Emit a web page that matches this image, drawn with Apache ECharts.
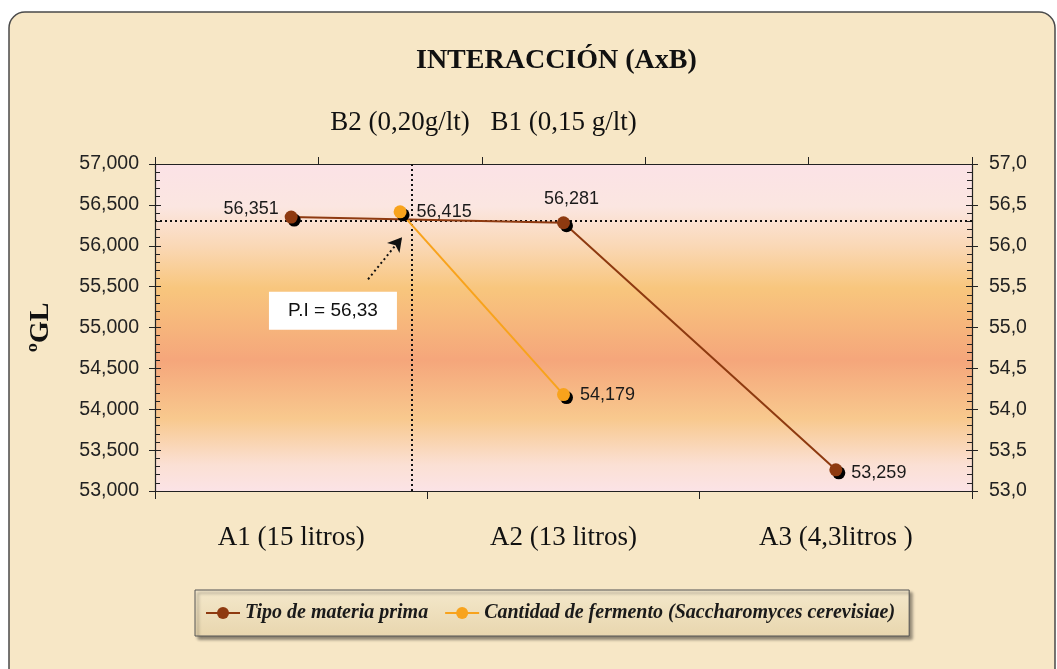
<!DOCTYPE html>
<html>
<head>
<meta charset="utf-8">
<script src="https://cdn.jsdelivr.net/npm/echarts@6/dist/echarts.min.js"></script>
<style>
html,body{margin:0;padding:0;background:#ffffff;}
#c{width:1057px;height:669px;}
</style>
</head>
<body>
<div id="c"></div>
<script>
// ---- data ----
const categoriesA = ['A1 (15 litros)', 'A2 (13 litros)', 'A3 (4,3litros )'];
const categoriesB = ['', 'B2 (0,20g/lt)', 'B1 (0,15 g/lt)', ' ', '  '];
const tipoMateria = [56.351, 56.281, 53.259];
const cantidadFermento = [null, 56.415, 54.179, null, null];
const yMin = 53, yMax = 57, yStep = 0.5;
// intersection crosshair (data units of hidden helper axis 0..5 and y)
const piLabel = 'P.I = 56,33';
const crossX = 1.573, crossY = 56.295;
const arrowFrom = [1.304, 55.59], arrowTo = [1.512, 56.105];
const boxAt = [1.089, 55.206];

const brown = '#8e3a10', orange = '#f8a31c';
const chart = echarts.init(document.getElementById('c'));
const fmtL = v => v.toFixed(3).replace('.', ',');
const fmtR = v => v.toFixed(1).replace('.', ',');
const serif = '"Liberation Serif", "Times New Roman", serif';
const sans = '"Liberation Sans", Arial, sans-serif';

const gridBg = {
  type: 'linear', x: 0, y: 0, x2: 0, y2: 1,
  colorStops: [
    {offset: 0, color: '#fbe2e6'},
    {offset: 0.13, color: '#fbe6e1'},
    {offset: 0.25, color: '#fad8b6'},
    {offset: 0.38, color: '#f8c67d'},
    {offset: 0.6, color: '#f5a67b'},
    {offset: 0.78, color: '#f8c98e'},
    {offset: 0.92, color: '#fbe0d4'},
    {offset: 1, color: '#fbe3e6'}
  ]
};

const yBase = {
  type: 'value', min: yMin, max: yMax, interval: yStep,
  splitLine: {show: false}
};

chart.setOption({
  backgroundColor: '#ffffff',
  animation: false,
  graphic: [{
    type: 'rect', z: -10,
    shape: {x: 9, y: 12, width: 1046, height: 700, r: 16},
    style: {fill: '#f7e7c6', stroke: '#4a4a4a', lineWidth: 1.5}
  }],
  title: {
    text: 'INTERACCIÓN (AxB)', left: 416, top: 47, padding: 0,
    textStyle: {fontFamily: serif, fontSize: 28, fontWeight: 'bold', color: '#111'}
  },
  grid: {
    left: 155, right: 85, top: 164, bottom: 178,
    show: true, backgroundColor: gridBg, borderWidth: 0
  },
  legend: {
    data: ['Tipo de materia prima', 'Cantidad de fermento (Saccharomyces cerevisiae)'],
    left: 195, top: 590,
    padding: [13, 14, 13, 10],
    itemGap: 16, itemWidth: 34, itemHeight: 15,
    backgroundColor: {
      type: 'linear', x: 0, y: 0, x2: 0, y2: 1,
      colorStops: [{offset: 0, color: '#f4e8cb'}, {offset: 1, color: '#e8d6ae'}]
    },
    borderColor: '#555', borderWidth: 1,
    shadowColor: 'rgba(0,0,0,0.45)', shadowOffsetX: 3, shadowOffsetY: 3, shadowBlur: 3,
    textStyle: {fontFamily: serif, fontSize: 20, fontStyle: 'italic', fontWeight: 'bold', color: '#1a1a1a'}
  },
  xAxis: [
    {
      type: 'category', position: 'bottom', data: categoriesA, boundaryGap: true,
      axisLine: {lineStyle: {color: '#222', width: 1.2}},
      axisTick: {show: true, length: 8, lineStyle: {color: '#222'}},
      axisLabel: {fontFamily: serif, fontSize: 27, color: '#111', margin: 33}
    },
    {
      type: 'category', position: 'top', data: categoriesB, boundaryGap: true,
      axisLine: {lineStyle: {color: '#222', width: 1.2}},
      axisTick: {show: true, length: 7, lineStyle: {color: '#222'}},
      axisLabel: {fontFamily: serif, fontSize: 27, color: '#111', margin: 28, interval: 0}
    },
    {type: 'value', position: 'top', min: 0, max: 5, show: false}
  ],
  yAxis: [
    Object.assign({}, yBase, {
      position: 'left', name: 'ºGL', nameLocation: 'middle', nameGap: 100, nameRotate: 90,
      nameTextStyle: {fontFamily: serif, fontSize: 28, fontWeight: 'bold', color: '#111'},
      axisLine: {show: true, lineStyle: {color: '#222', width: 1.2}},
      axisTick: {show: true, length: 6, lineStyle: {color: '#222'}},
      axisLabel: {formatter: fmtL, fontFamily: sans, fontSize: 19.5, color: '#222', margin: 16}
    }),
    Object.assign({}, yBase, {
      position: 'right',
      axisLine: {show: true, lineStyle: {color: '#222', width: 1.2}},
      axisTick: {show: true, length: 6, lineStyle: {color: '#222'}},
      axisLabel: {formatter: fmtR, fontFamily: sans, fontSize: 19.5, color: '#222', margin: 17}
    }),
    Object.assign({}, yBase, {
      position: 'left',
      axisLine: {show: false}, axisLabel: {show: false},
      axisTick: {show: true, inside: true, length: 6, lineStyle: {color: '#222'}},
      minorTick: {show: true, splitNumber: 5, length: 5, lineStyle: {color: '#222'}}
    }),
    Object.assign({}, yBase, {
      position: 'right',
      axisLine: {show: false}, axisLabel: {show: false},
      axisTick: {show: true, inside: true, length: 6, lineStyle: {color: '#222'}},
      minorTick: {show: true, splitNumber: 5, length: 5, lineStyle: {color: '#222'}}
    })
  ],
  series: [
    {
      name: 'Tipo de materia prima', type: 'line', xAxisIndex: 0, yAxisIndex: 0,
      symbol: 'circle', symbolSize: 13, z: 5,
      lineStyle: {color: brown, width: 2},
      itemStyle: {color: brown, shadowColor: '#000', shadowOffsetX: 3, shadowOffsetY: 3, shadowBlur: 0},
      label: {
        show: true, formatter: p => fmtL(p.value), fontFamily: sans, fontSize: 18, color: '#1a1a1a'
      },
      data: tipoMateria.map((v, i) => ({
        value: v,
        label: i === 0 ? {position: 'left', distance: 6, offset: [0, -8]}
             : i === 1 ? {position: 'top', distance: 8, offset: [8, 0]}
             : {position: 'right', distance: 9, offset: [0, 3]}
      }))
    },
    {
      name: 'Cantidad de fermento (Saccharomyces cerevisiae)', type: 'line', xAxisIndex: 1, yAxisIndex: 0,
      data: cantidadFermento, symbol: 'circle', symbolSize: 13, z: 6,
      lineStyle: {color: orange, width: 2},
      itemStyle: {color: orange, shadowColor: '#000', shadowOffsetX: 3, shadowOffsetY: 3, shadowBlur: 0},
      label: {
        show: true, position: 'right', distance: 10, formatter: p => fmtL(p.value),
        fontFamily: sans, fontSize: 18, color: '#1a1a1a'
      }
    },
    {
      name: 'annot', type: 'line', xAxisIndex: 2, yAxisIndex: 0, data: [], silent: true, z: 4,
      markLine: {
        silent: true, symbol: ['none', 'none'], label: {show: false},
        lineStyle: {color: '#111', type: [2, 3], width: 2},
        data: [
          {xAxis: crossX},
          {yAxis: crossY},
          [
            {coord: arrowFrom, symbol: 'none'},
            {coord: arrowTo, symbol: 'arrow', symbolSize: [12, 14]}
          ]
        ]
      },
      markPoint: {
        silent: true,
        data: [{
          coord: boxAt, symbol: 'rect', symbolSize: [128, 38],
          itemStyle: {color: '#ffffff'},
          label: {show: true, position: 'inside', formatter: piLabel, fontFamily: sans, fontSize: 19, color: '#111'}
        }]
      }
    }
  ]
});
</script>
</body>
</html>
